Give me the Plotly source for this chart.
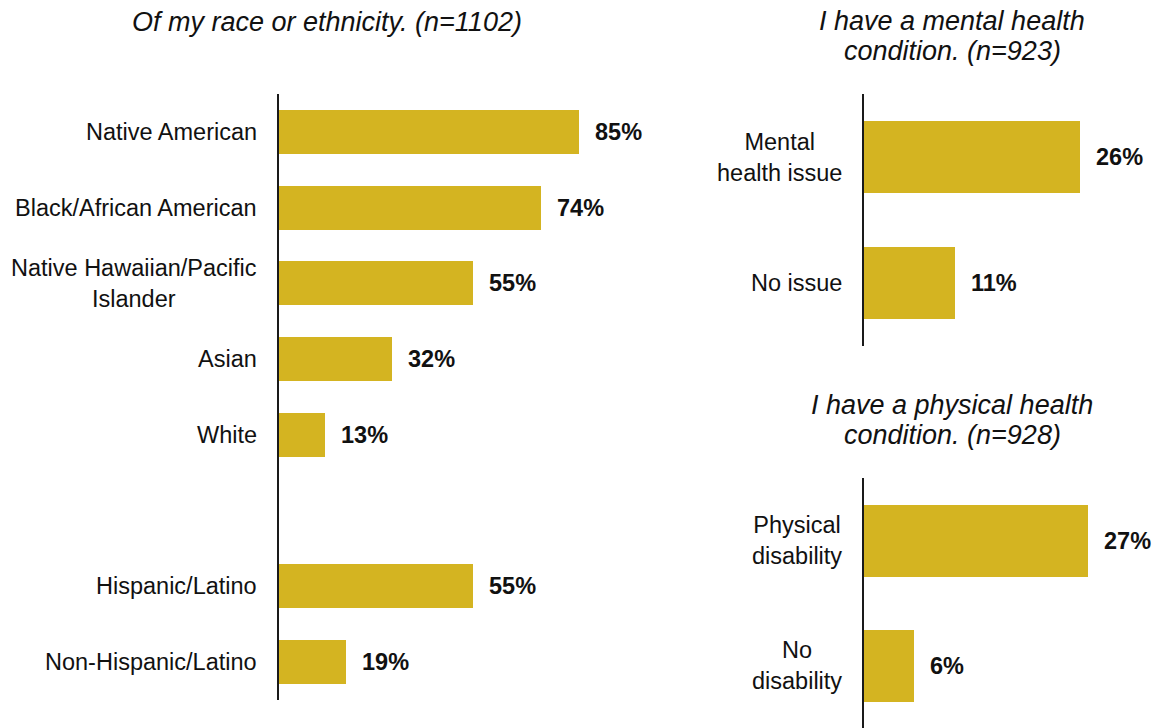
import plotly.graph_objects as go

# Race / ethnicity panel
race_labels = ["Native American", "Black/African American",
               "Native Hawaiian/Pacific<br>Islander", "Asian", "White",
               " ", "Hispanic/Latino", "Non-Hispanic/Latino"]
race_values = [85, 74, 55, 32, 13, None, 55, 19]

# Mental health panel
mental_labels = ["Mental<br>health issue", "No issue"]
mental_values = [26, 11]

# Physical health panel
physical_labels = ["Physical<br>disability", "No<br>disability"]
physical_values = [27, 6]

# Panel titles, one entry per printed line
title_lines = [
    ["Of my race or ethnicity. (n=1102)"],
    ["I have a mental health", "condition. (n=923)"],
    ["I have a physical health", "condition. (n=928)"],
]

BAR = "#D4B421"
FONT = "Liberation Sans, Arial, sans-serif"
W, H = 1157, 728

fig = go.Figure()

panels = [
    # (labels, values, xaxis, yaxis, x domain px, y domain px (top, bottom), x max, bar width)
    (race_labels, race_values, "x", "y", (279, 632.5), (94, 700), 100, 0.58),
    (mental_labels, mental_values, "x2", "y2", (864, 1154.5), (94, 346), 35, 0.57),
    (physical_labels, physical_values, "x3", "y3", (864, 1154.5), (478, 728), 35, 0.576),
]

annotations = []
for i, (labels, values, xa, ya, xd, yd, xmax, bw) in enumerate(panels):
    fig.add_trace(go.Bar(
        x=values, y=labels, orientation="h", xaxis=xa, yaxis=ya,
        marker=dict(color=BAR, line=dict(width=0)), width=bw,
        hoverinfo="skip", showlegend=False,
    ))
    sfx = "" if i == 0 else str(i + 1)
    fig.layout["xaxis" + sfx] = dict(
        domain=[xd[0] / W, xd[1] / W], range=[0, xmax], visible=False,
        anchor=ya, fixedrange=True,
    )
    n = len(labels)
    fig.layout["yaxis" + sfx] = dict(
        domain=[(H - yd[1]) / H, (H - yd[0]) / H], anchor=xa,
        type="category", categoryorder="array", categoryarray=labels,
        range=[n - 0.5, -0.5], showticklabels=False, ticks="",
        showgrid=False, zeroline=False, showline=True,
        linecolor="#1a1a1a", linewidth=2, fixedrange=True,
    )
    for lab, val in zip(labels, values):
        if val is None:
            continue
        # category label to the left of the axis line
        annotations.append(dict(
            text=lab, xref=xa + " domain", yref=ya, x=0, y=lab,
            xanchor="right", yanchor="middle", xshift=-20, align="center",
            showarrow=False, font=dict(family=FONT, size=23.5, color="#111111"),
        ))
        # value label just past the bar end
        annotations.append(dict(
            text=f"<b>{val}%</b>", xref=xa, yref=ya, x=val, y=lab,
            xanchor="left", yanchor="middle", xshift=14,
            showarrow=False, font=dict(family=FONT, size=23.5, color="#111111"),
        ))

# panel titles (centre x, centre y of the first line)
title_pos = [(327, 22), (952, 21), (952, 405)]
for lines, (cx, cy) in zip(title_lines, title_pos):
    for k, line in enumerate(lines):
        annotations.append(dict(
            text=f"<i>{line}</i>", xref="paper", yref="paper",
            x=cx / W, y=1 - (cy + 30 * k) / H,
            xanchor="center", yanchor="middle", showarrow=False,
            font=dict(family=FONT, size=27, color="#111111"),
        ))

fig.update_layout(
    width=W, height=H, margin=dict(l=0, r=0, t=0, b=0),
    paper_bgcolor="white", plot_bgcolor="white",
    annotations=annotations, bargap=0,
)

fig.write_html("out.html", config={"displayModeBar": False})
